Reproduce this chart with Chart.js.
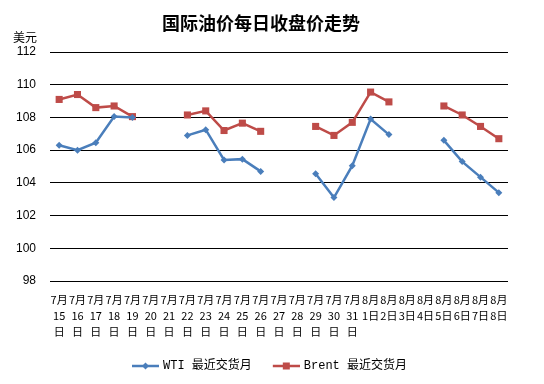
<!DOCTYPE html>
<html>
<head>
<meta charset="utf-8">
<script src="https://cdn.jsdelivr.net/npm/chart.js@4.4.0/dist/chart.umd.min.js"></script>
<style>
  html, body { margin: 0; padding: 0; background: #fff; }
  #wrap { width: 544px; height: 384px; }
</style>
</head>
<body>
<div id="wrap"><canvas id="oil-chart"></canvas></div>
<script>
// data
const categories = ['7月15日','7月16日','7月17日','7月18日','7月19日','7月20日','7月21日','7月22日','7月23日','7月24日','7月25日','7月26日','7月27日','7月28日','7月29日','7月30日','7月31日','8月1日','8月2日','8月3日','8月4日','8月5日','8月6日','8月7日','8月8日'];
const tickLabels = [
    ['7月','15','日'], ['7月','16','日'], ['7月','17','日'], ['7月','18','日'], ['7月','19','日'],
    ['7月','20','日'], ['7月','21','日'], ['7月','22','日'], ['7月','23','日'], ['7月','24','日'],
    ['7月','25','日'], ['7月','26','日'], ['7月','27','日'], ['7月','28','日'], ['7月','29','日'],
    ['7月','30','日'], ['7月','31','日'], ['8月','1日'], ['8月','2日'], ['8月','3日'],
    ['8月','4日'], ['8月','5日'], ['8月','6日'], ['8月','7日'], ['8月','8日']
];
const wtiValues = [106.3, 106.0, 106.45, 108.05, 108.0, null, null, 106.9, 107.25, 105.4, 105.45, 104.7, null, null, 104.55, 103.1, 105.05, 107.9, 106.95, null, null, 106.6, 105.3, 104.35, 103.4];
const brentValues = [109.1, 109.4, 108.6, 108.7, 108.05, null, null, 108.15, 108.4, 107.2, 107.65, 107.15, null, null, 107.45, 106.9, 107.7, 109.55, 108.95, null, null, 108.7, 108.15, 107.45, 106.7];
const seriesNames = ['WTI 最近交货月', 'Brent 最近交货月'];
const yTicks = [98, 100, 102, 104, 106, 108, 110, 112];

const blue = '#4A7EBB';
const red = '#BE4B48';

// legend swatch: line with the marker in the middle (transparent room on the left)
function legend_swatch (color, shape) {
    const c = document.createElement('canvas');
    c.width = 46; c.height = 12;
    const ctx = c.getContext('2d');
    ctx.strokeStyle = color;
    ctx.lineWidth = 2.5;
    ctx.beginPath();
    ctx.moveTo(19, 6); ctx.lineTo(46, 6);
    ctx.stroke();
    ctx.fillStyle = color;
    if (shape == 'diamond') {
        ctx.beginPath();
        ctx.moveTo(32.5, 2.5); ctx.lineTo(36, 6); ctx.lineTo(32.5, 9.5); ctx.lineTo(29, 6);
        ctx.closePath();
        ctx.fill();
    } else {
        ctx.fillRect(29, 2.5, 7, 7);
    }
    return c;
}
const swatches = [legend_swatch(blue, 'diamond'), legend_swatch(red, 'square')];

const unitLabel = {
    id: 'unitLabel',
    afterDraw (chart) {
        const ctx = chart.ctx;
        ctx.save();
        ctx.font = '12px "Noto Sans CJK SC"';
        ctx.fillStyle = '#000';
        ctx.textAlign = 'center';
        ctx.textBaseline = 'middle';
        ctx.fillText('美元', 25, 37);
        ctx.restore();
    }
};

const oilChart = new Chart(
    document.getElementById('oil-chart'),
    {
        type: 'line',
        data: {
            labels: categories,
            datasets: [{
                label: seriesNames[0],
                data: wtiValues,
                borderColor: blue,
                backgroundColor: blue,
                borderWidth: 2.5,
                pointStyle: 'rectRot',
                pointRadius: 3.5,
                pointBorderWidth: 0,
                tension: 0,
                spanGaps: false
            },
            {
                label: seriesNames[1],
                data: brentValues,
                borderColor: red,
                backgroundColor: red,
                borderWidth: 2.5,
                pointStyle: 'rect',
                pointRadius: 5,
                pointBorderWidth: 0,
                tension: 0,
                spanGaps: false
            }]
        },
        options: {
            responsive: true,
            maintainAspectRatio: false,
            animation: false,
            layout: {
                padding: {top: 0, left: 0, right: 22, bottom: 2}
            },
            plugins: {
                title: {
                    display: true,
                    text: '国际油价每日收盘价走势',
                    color: '#000',
                    font: {family: '"Noto Sans CJK SC"', size: 18, weight: 'bold', lineHeight: 1.2},
                    padding: {top: 12, bottom: 18.4}
                },
                legend: {
                    position: 'bottom',
                    labels: {
                        usePointStyle: true,
                        pointStyleWidth: 42,
                        padding: 4,
                        color: '#000',
                        font: {family: '"Liberation Mono", "Noto Sans CJK SC"', size: 12},
                        generateLabels (chart) {
                            return chart.data.datasets.map((ds, i) => ({
                                text: ds.label,
                                fillStyle: ds.borderColor,
                                strokeStyle: ds.borderColor,
                                lineWidth: 0,
                                pointStyle: swatches[i],
                                hidden: false,
                                datasetIndex: i
                            }));
                        }
                    }
                },
                tooltip: {enabled: false}
            },
            scales: {
                x: {
                    offset: true,
                    grid: {display: false, drawTicks: false},
                    border: {display: false},
                    ticks: {
                        autoSkip: false,
                        maxRotation: 0,
                        minRotation: 0,
                        padding: 11,
                        color: '#000',
                        font: {family: '"Noto Sans CJK SC"', size: 11, lineHeight: '16px'},
                        callback: (value, index) => tickLabels[index]
                    },
                    afterFit (scale) { scale.height = 75; }
                },
                y: {
                    min: 98,
                    max: 112,
                    afterBuildTicks (scale) { scale.ticks = yTicks.map(v => ({value: v})); },
                    grid: {color: '#000', lineWidth: 1, drawTicks: false},
                    border: {display: false},
                    ticks: {
                        padding: 14,
                        color: '#000',
                        font: {family: '"Liberation Sans", Arial', size: 12}
                    },
                    afterFit (scale) { scale.width = 50; }
                },
                yR: {
                    position: 'right',
                    display: true,
                    grid: {display: false, drawTicks: false},
                    border: {display: false},
                    ticks: {display: false},
                    afterFit (scale) { scale.width = 14; }
                }
            }
        },
        plugins: [unitLabel]
    }
);
</script>
</body>
</html>
